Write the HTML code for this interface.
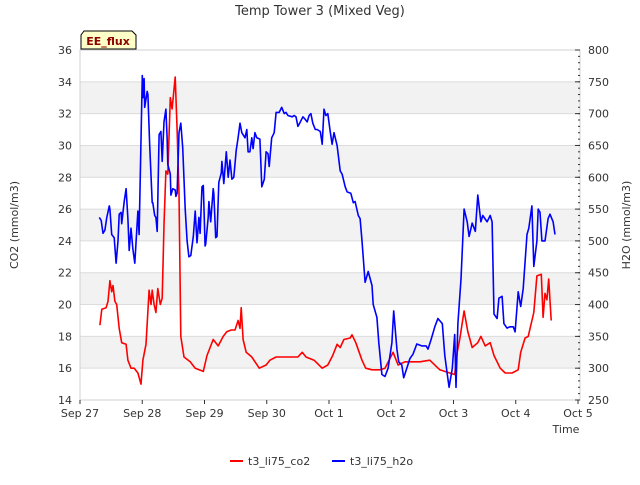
<!DOCTYPE html>
<html><head><meta charset="utf-8"><style>
body{margin:0;background:#fff;font-family:"Liberation Sans","DejaVu Sans",sans-serif}
svg text{font-family:"DejaVu Sans","Liberation Sans",sans-serif}
</style></head><body>
<svg id="chart" width="640" height="480" viewBox="0 0 640 480"></svg>
<script>
const xTickLabels=["Sep 27","Sep 28","Sep 29","Sep 30","Oct 1","Oct 2","Oct 3","Oct 4","Oct 5"];
const leftTicks=[14,16,18,20,22,24,26,28,30,32,34,36];
const rightTicks=[250,300,350,400,450,500,550,600,650,700,750,800];
const co2Days=[0.32,0.35,0.42,0.45,0.48,0.51,0.53,0.56,0.59,0.63,0.67,0.74,0.77,0.82,0.87,0.93,0.98,1.01,1.06,1.11,1.14,1.16,1.19,1.22,1.25,1.29,1.32,1.35,1.38,1.41,1.45,1.48,1.53,1.56,1.59,1.62,1.67,1.77,1.85,1.98,2.04,2.14,2.22,2.30,2.36,2.43,2.49,2.54,2.57,2.59,2.62,2.67,2.76,2.88,2.99,3.05,3.15,3.37,3.50,3.57,3.63,3.76,3.89,3.98,4.06,4.13,4.18,4.24,4.34,4.37,4.43,4.53,4.59,4.69,4.82,4.90,5.03,5.11,5.22,5.46,5.62,5.78,5.94,6.02,6.06,6.10,6.17,6.23,6.30,6.39,6.44,6.51,6.59,6.65,6.75,6.83,6.94,7.04,7.08,7.15,7.20,7.29,7.34,7.41,7.44,7.47,7.50,7.53,7.57];
const co2Vals=[18.7,19.7,19.8,20.2,21.5,20.8,21.2,20.2,20.0,18.5,17.6,17.5,16.5,16.0,16.0,15.7,15.0,16.5,17.5,20.9,20.0,20.9,20.0,19.5,21.0,20.0,20.4,25,28.4,28.2,33.0,32.3,34.3,31,27,18,16.7,16.4,16.0,15.8,16.8,17.8,17.4,18.0,18.3,18.4,18.4,19.0,18.5,19.8,17.8,17.0,16.7,16.0,16.2,16.5,16.7,16.7,16.7,17.0,16.7,16.5,16.0,16.2,16.8,17.5,17.3,17.8,17.9,18.1,17.6,16.5,16.0,15.9,15.9,16.0,17.0,16.2,16.4,16.4,16.5,15.9,15.7,15.6,17.0,17.8,19.6,18.3,17.3,17.6,18.0,17.4,17.6,16.8,16.0,15.7,15.7,15.9,17.0,17.9,18.0,19.5,21.8,21.9,19.2,20.7,20.3,21.6,19.0];
const h2oDays=[0.31,0.34,0.37,0.40,0.43,0.47,0.48,0.51,0.55,0.58,0.61,0.63,0.66,0.67,0.71,0.74,0.77,0.79,0.82,0.85,0.88,0.93,0.95,1.00,1.01,1.03,1.04,1.08,1.09,1.12,1.16,1.17,1.20,1.22,1.24,1.27,1.30,1.32,1.35,1.38,1.40,1.41,1.45,1.46,1.49,1.53,1.54,1.56,1.59,1.62,1.65,1.69,1.72,1.75,1.78,1.82,1.85,1.88,1.91,1.93,1.96,1.98,2.01,2.02,2.06,2.07,2.10,2.14,2.15,2.18,2.20,2.23,2.27,2.28,2.31,2.35,2.38,2.41,2.44,2.47,2.51,2.54,2.57,2.60,2.65,2.68,2.70,2.73,2.76,2.78,2.81,2.84,2.89,2.92,2.96,2.99,3.02,3.04,3.08,3.12,3.15,3.20,3.24,3.28,3.31,3.34,3.41,3.44,3.47,3.50,3.53,3.58,3.61,3.65,3.68,3.71,3.74,3.78,3.81,3.86,3.89,3.92,3.95,3.98,4.02,4.05,4.08,4.13,4.18,4.21,4.26,4.29,4.35,4.39,4.42,4.47,4.50,4.53,4.58,4.63,4.69,4.71,4.77,4.80,4.85,4.90,4.95,5.01,5.04,5.09,5.12,5.17,5.20,5.25,5.30,5.35,5.41,5.49,5.56,5.59,5.64,5.70,5.75,5.82,5.86,5.90,5.93,5.98,6.02,6.04,6.07,6.12,6.17,6.22,6.25,6.30,6.35,6.39,6.44,6.47,6.54,6.59,6.62,6.65,6.70,6.73,6.78,6.81,6.86,6.91,6.96,6.99,7.04,7.08,7.12,7.18,7.21,7.26,7.29,7.34,7.36,7.39,7.42,7.47,7.52,7.55,7.60,7.63];
const h2oVals=[537,532,512,517,537,555,550,510,505,465,500,542,545,527,562,582,535,485,520,487,465,547,510,760,725,755,710,735,730,650,560,560,540,537,515,667,672,625,687,707,662,620,605,572,582,580,570,575,670,685,647,550,500,475,477,507,547,497,537,512,585,587,492,495,537,562,530,582,575,505,507,592,607,625,590,640,600,627,597,600,642,662,685,670,662,675,640,640,662,645,670,662,660,585,597,640,637,617,662,670,702,702,710,700,702,697,695,697,695,680,685,695,692,687,697,700,685,675,675,672,652,707,697,700,672,652,670,650,610,605,585,577,575,560,562,540,535,500,435,452,430,400,380,340,290,287,300,340,390,330,310,305,285,300,315,322,338,335,335,330,345,365,378,370,320,290,270,300,353,270,370,440,550,530,507,528,515,572,530,540,530,540,530,385,378,410,413,370,363,365,365,357,420,397,425,510,520,555,460,500,550,545,500,500,535,542,530,510];

const svg=document.getElementById('chart');
const NS='http://www.w3.org/2000/svg';
const L=80,R=580,T=50,B=400;
const xs=d=>L+d*(R-L-2)/8;
const yl=v=>B-(v-14)*(B-T)/22;
const yr=v=>B-(v-250)*(B-T)/550;
function mk(tag,attrs,parent){const e=document.createElementNS(NS,tag);for(const k in attrs)e.setAttribute(k,attrs[k]);(parent||svg).appendChild(e);return e;}

// bands + grid
for(let i=0;i<leftTicks.length-1;i++){
  if(i%2===1){const r=mk('rect',{x:L,y:yl(leftTicks[i+1]),width:R-L,height:yl(leftTicks[i])-yl(leftTicks[i+1]),fill:'#f2f2f2'});
  
  }
}
leftTicks.forEach(v=>{const g=mk('line',{x1:L,x2:R,y1:yl(v),y2:yl(v),stroke:'#dcdcdc','stroke-width':1});

});
mk('rect',{x:L,y:T,width:R-L,height:B-T,fill:'none',stroke:'#d0d0d0'});

// left ticks
leftTicks.forEach(v=>{const t=mk('text',{x:L-8,y:yl(v)+4,'text-anchor':'end','font-size':11,fill:'#333'});t.textContent=v;

});
// right ticks
rightTicks.forEach(v=>{mk('line',{x1:R,x2:R-5,y1:yr(v),y2:yr(v),stroke:'#333'});
const t=mk('text',{x:R+8,y:yr(v)+4,'font-size':11,fill:'#333'});t.textContent=v;

});
for(let v=250;v<=800;v+=10){mk('line',{x1:R,x2:R-2,y1:yr(v),y2:yr(v),stroke:'#333'});}
// x ticks
xTickLabels.forEach((s,i)=>{mk('line',{x1:xs(i),x2:xs(i),y1:B,y2:B+4,stroke:'#333'});
const t=mk('text',{x:xs(i),y:B+17,'text-anchor':'middle','font-size':11,fill:'#333'});t.textContent=s;

});

// series
function path(days,vals,yf,color,name){
  const d=days.map((x,i)=>(i?'L':'M')+xs(x).toFixed(1)+','+yf(vals[i]).toFixed(1)).join('');
  const p=mk('path',{d:d,fill:'none',stroke:color,'stroke-width':1.6,'stroke-linejoin':'round'});
  
  
}
path(co2Days,co2Vals,yl,'#ff0000','co2-line');
path(h2oDays,h2oVals,yr,'#0000ff','h2o-line');
</script>
<svg width="640" height="480" style="position:absolute;left:0;top:0">
<text x="320" y="15" text-anchor="middle" font-size="13" fill="#333">Temp Tower 3 (Mixed Veg)</text>
<text transform="translate(18,225) rotate(-90)" text-anchor="middle" font-size="11" fill="#333">CO2 (mmol/m3)</text>
<text transform="translate(630,225) rotate(-90)" text-anchor="middle" font-size="11" fill="#333">H2O (mmol/m3)</text>
<text x="566" y="433" text-anchor="middle" font-size="11" fill="#333">Time</text>
<path d="M84,31 L132,31 L136,35 L136,49 L81,49 L81,35 Z" fill="#ffffc8" stroke="#000"/>
<text x="108" y="45" text-anchor="middle" font-size="11" font-weight="bold" fill="#8b0000">EE_flux</text>
<line x1="230" x2="243" y1="461" y2="461" stroke="#ff0000" stroke-width="2"/>
<text x="248" y="465" font-size="11" fill="#333">t3_li75_co2</text>
<line x1="332" x2="345" y1="461" y2="461" stroke="#0000ff" stroke-width="2"/>
<text x="350" y="465" font-size="11" fill="#333">t3_li75_h2o</text>
</svg>
</body></html>
